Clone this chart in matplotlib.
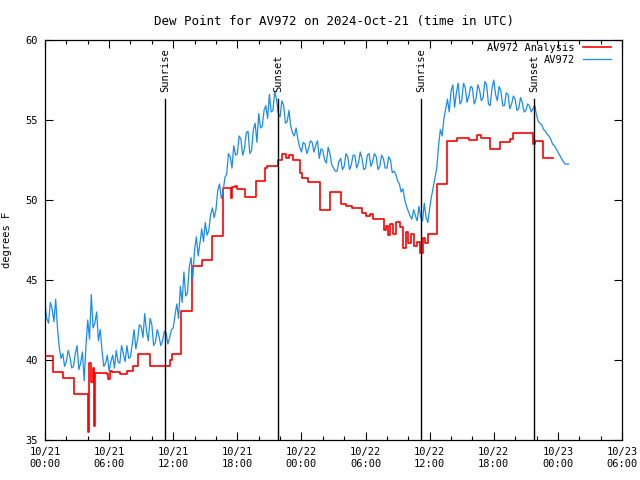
import matplotlib
matplotlib.use('Agg')
import matplotlib.pyplot as plt
import numpy as np

# AV972 observations, one every 10 minutes from 2024-10-21 00:00 UTC
obs_step = 1.0 / 6.0
obs_values = [
    43.5, 42.6, 42.3, 43.6, 43.2, 42.4,
    43.8, 42.0, 40.8, 40.1, 40.4, 39.6,
    39.9, 40.6, 40.2, 39.5, 39.6, 40.4,
    40.9, 39.4, 39.8, 40.5, 38.7, 40.9,
    42.5, 41.3, 44.1, 42.0, 42.3, 43.0,
    41.2, 41.9, 40.6, 39.6, 39.8, 40.3,
    39.3, 39.9, 40.3, 39.5, 40.6, 39.9,
    39.8, 40.9, 40.4, 39.9, 40.9, 40.1,
    40.2, 41.0, 41.9, 40.7, 41.3, 42.2,
    42.1, 41.4, 42.9, 41.8, 41.2, 42.6,
    42.2, 40.9, 41.1, 41.9, 41.5, 40.9,
    41.2, 41.8, 41.7, 41.0, 41.4, 41.9,
    42.0, 42.8, 43.5, 42.6, 44.6, 43.6,
    45.5, 44.0, 44.2, 45.8, 46.4, 45.1,
    46.9, 47.7, 46.5, 47.3, 48.2, 47.4,
    48.6, 47.8, 48.1, 49.1, 49.5, 48.9,
    49.4, 50.6, 51.0, 50.1, 50.5, 51.4,
    51.6, 52.9, 52.7, 52.0, 53.4, 52.8,
    52.9, 54.0, 53.8, 52.8, 53.2, 54.2,
    54.3, 52.9, 53.1, 54.4, 54.8, 53.6,
    55.4, 54.5, 54.6, 55.6, 55.9, 55.1,
    56.6, 55.5, 55.6, 56.8, 56.3, 55.4,
    55.2, 56.2, 55.9, 54.8, 54.9, 55.6,
    54.6, 54.2, 54.0, 54.5, 53.8, 53.3,
    53.0, 53.6, 53.5, 52.9, 53.2, 53.7,
    53.6, 53.0, 53.4, 53.7, 52.6, 53.2,
    53.1, 52.5, 52.3, 53.3, 52.9, 52.2,
    52.0, 51.8, 51.8, 52.4, 52.6, 51.9,
    52.1, 52.9, 52.7, 51.9, 52.2, 52.8,
    52.8, 52.0, 52.3, 53.0, 52.6, 51.9,
    52.0, 52.8, 52.9, 52.1, 52.4, 52.9,
    52.7, 51.9, 52.1, 52.8, 52.6, 52.0,
    52.0, 52.7, 52.5, 51.7, 51.8, 51.6,
    51.2, 51.0, 50.5, 50.7, 50.0, 49.6,
    49.3, 49.0, 48.8, 49.4, 49.0, 48.7,
    49.6, 48.9, 48.7, 49.8, 48.9, 48.6,
    49.5, 50.2, 50.8, 51.4, 52.0, 53.4,
    54.4, 54.0, 55.1, 55.7, 56.3, 55.5,
    56.8, 57.2, 55.8, 56.7, 57.3, 56.0,
    56.2, 57.3, 57.0, 56.1, 56.5, 57.1,
    57.0, 56.0, 56.3, 57.2, 56.9, 56.2,
    56.4, 57.4, 57.2, 56.0, 55.9, 57.0,
    57.5, 56.6, 56.2, 57.1, 56.8, 55.9,
    55.9, 56.7, 56.6, 55.7, 56.0, 56.5,
    56.3, 55.6, 55.7, 56.4, 56.1, 55.5,
    55.6, 56.0, 55.9, 55.5, 55.7, 55.9,
    55.3, 54.9, 54.8, 54.7, 54.4, 54.3,
    54.1, 54.0, 53.8, 53.5, 53.4, 53.2,
    53.0, 52.8, 52.6, 52.4, 52.25, 52.25,
    52.25,
]

# analysis: hour of each change and value after it
ana_hours = [
    0.0, 0.75, 1.7, 2.7, 4.0, 4.1, 4.3, 4.5, 4.6, 4.7, 5.8, 5.9, 6.1, 6.27,
    7.0, 7.7, 8.25, 8.7, 9.8, 11.7, 11.9, 12.7, 13.75, 14.7, 15.6, 16.7,
    17.4, 17.5, 17.8, 18.0, 18.7, 19.75, 20.6, 20.8, 21.8, 22.2, 22.55, 22.8,
    23.2, 23.9, 24.05, 24.6, 25.75, 26.7, 27.7, 28.2, 28.7, 29.7, 30.0, 30.4,
    30.7, 31.7, 31.9, 32.1, 32.3, 32.6, 32.85, 33.2, 33.5, 33.8, 34.0, 34.25,
    34.5, 34.8, 35.1, 35.4, 35.6, 35.85, 36.7, 37.6, 38.55, 39.7, 40.45,
    40.8, 41.65, 42.6, 43.5, 43.8, 45.7, 45.9, 46.6, 47.55,
]
ana_values = [
    40.25, 39.25, 38.9, 37.9, 35.5, 39.8, 38.6, 39.5, 35.9, 39.2, 39.1, 38.8,
    39.3, 39.25, 39.1, 39.3, 39.6, 40.4, 39.6, 40.0, 40.4, 43.06, 45.9, 46.25,
    47.75, 50.75, 50.1, 50.8, 50.9, 50.7, 50.2, 51.2, 52.0, 52.1, 52.5, 52.9,
    52.6, 52.8, 52.5, 51.7, 51.4, 51.1, 49.4, 50.5, 49.75, 49.6, 49.5, 49.2,
    49.0, 49.1, 48.8, 48.1, 48.4, 47.8, 48.5, 47.9, 48.6, 48.3, 47.0, 48.0,
    47.3, 47.9, 47.1, 47.4, 46.7, 47.6, 47.3, 47.9, 51.0, 53.7, 53.9, 53.75,
    54.06, 53.9, 53.2, 53.6, 53.8, 54.2, 53.5, 53.7, 52.6, 52.6,
]

sun_hours = [11.23, 21.8, 35.19, 45.77]
sun_labels = ['Sunrise', 'Sunset', 'Sunrise', 'Sunset']

tick_hours = [0, 6, 12, 18, 24, 30, 36, 42, 48, 54]
tick_labels = ['10/21\n00:00', '10/21\n06:00', '10/21\n12:00', '10/21\n18:00',
               '10/22\n00:00', '10/22\n06:00', '10/22\n12:00', '10/22\n18:00',
               '10/23\n00:00', '10/23\n06:00']

plt.rcParams['font.family'] = 'DejaVu Sans Mono'
plt.rcParams['font.size'] = 7.5

fig = plt.figure(figsize=(6.4, 4.8), dpi=100)
ax = fig.add_axes([45 / 640, 40 / 480, 577 / 640, 400 / 480])

obs_hours = np.arange(len(obs_values)) * obs_step

ax.plot(ana_hours, ana_values, color='#ff0000', lw=1.2, drawstyle='steps-post',
        label='AV972 Analysis')
ax.plot(obs_hours, obs_values, color='#1a8cf0', lw=0.9, label='AV972')

for h, lab in zip(sun_hours, sun_labels):
    ax.plot([h, h], [35, 56.3], color='black', lw=1.0)
    ax.text(h, 56.75, lab, rotation=90, ha='center', va='bottom')

ax.set_xlim(0, 54)
ax.set_ylim(35, 60)
ax.set_xticks(tick_hours)
ax.set_xticklabels(tick_labels)
ax.set_xticks(np.arange(0, 55, 2), minor=True)
ax.set_yticks([35, 40, 45, 50, 55, 60])
ax.tick_params(which='both', direction='in', top=True, right=True, width=0.8)
ax.tick_params(which='major', length=6, pad=5)
ax.tick_params(which='minor', length=3)
for s in ax.spines.values():
    s.set_linewidth(0.9)

ax.set_ylabel('degrees F')
ax.yaxis.set_label_coords(-33 / 577, 0.5)
ax.set_title('Dew Point for AV972 on 2024-Oct-21 (time in UTC)', pad=11)

ax.legend(loc='upper right', bbox_to_anchor=(0.983, 0.995), frameon=False,
          markerfirst=False, handlelength=2.7, borderaxespad=0, borderpad=0.1,
          labelspacing=0.2, handletextpad=0.8)

fig.savefig('out.png', dpi=100)
